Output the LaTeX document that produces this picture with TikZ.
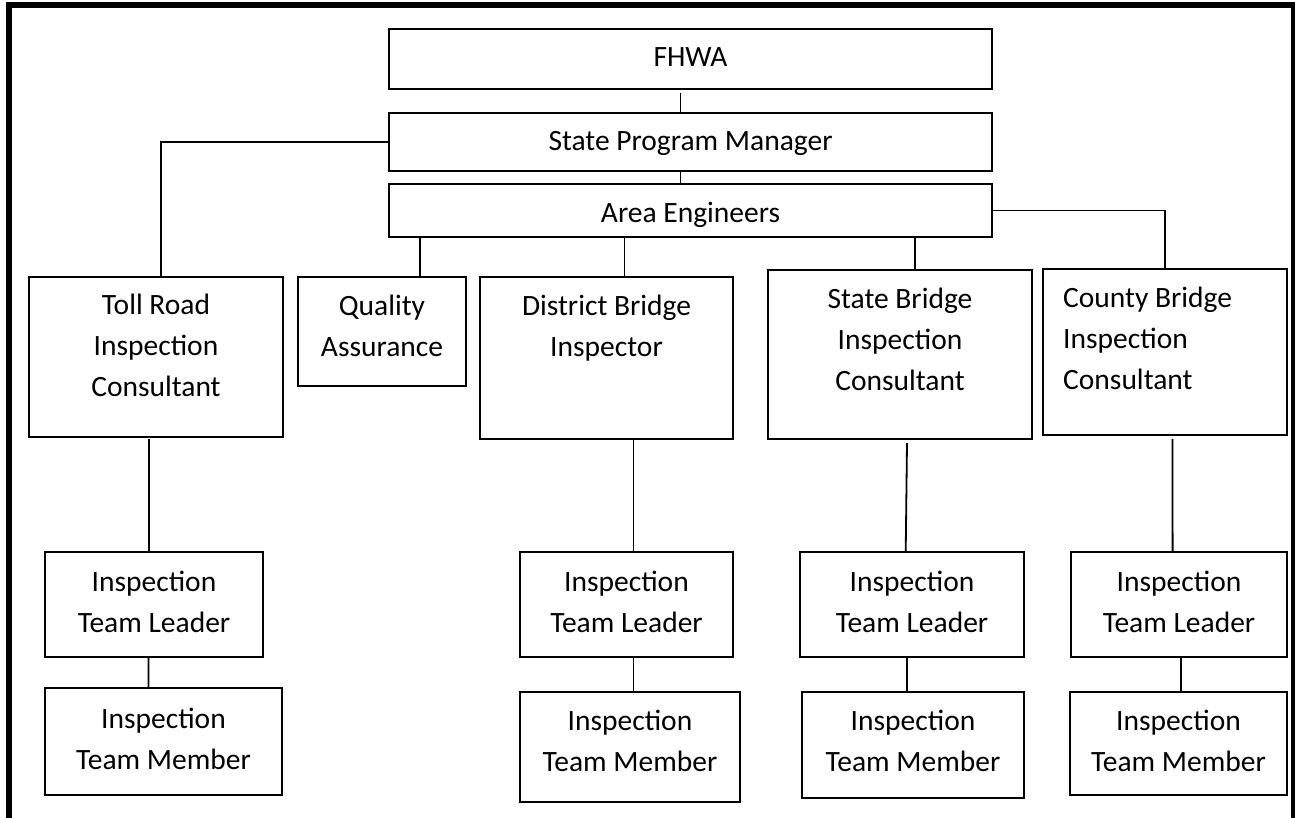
\documentclass[tikz,border=0pt]{standalone}
\usepackage{fontspec}
\setmainfont{Carlito}
% box given by its corners: name, x1, y1, x2, y2
\newcommand\orgbox[5]{%
  \node[box, minimum width={#4-#2}, minimum height={#5-#3}] (#1)
    at ({(#2+#4)/2},{(#3+#5)/2}) {};}
\begin{document}
\begin{tikzpicture}[x=1pt,y=-1pt,
  box/.style={draw, line width=1.8pt, rectangle, inner sep=0pt, outer sep=0pt},
  lbl/.style={align=center, inner sep=0pt, anchor=base,
              font=\fontsize{29.5}{41}\selectfont},
  link/.style={line width=1.8pt},
  frame/.style={line width=6pt}]
\useasboundingbox (0,0) rectangle (1295,818);

% outer frame
\coordinate (f1) at (9,818);
\coordinate (f2) at (9,5.5);
\coordinate (f3) at (1294,5.5);
\coordinate (f4) at (1294,818);
\draw[frame] (f1) -- (f2) -- (f3) -- (f4);

% boxes
\orgbox{fhwa}{389}{29}{992}{89}
\orgbox{spm}{389}{113}{992}{171}
\orgbox{ae}{389}{184}{992}{237}
\orgbox{toll}{29}{277}{283}{437}
\orgbox{qa}{298}{277}{466}{386}
\orgbox{dist}{480}{277}{733}{439}
\orgbox{state}{768}{270}{1032}{439}
\orgbox{county}{1043}{269}{1287}{435}
\orgbox{tla}{45}{552}{263}{657}
\orgbox{tma}{45}{688}{282}{795}
\orgbox{tlb}{520}{552}{733}{657}
\orgbox{tmb}{520}{692}{740}{802}
\orgbox{tlc}{800}{552}{1024}{657}
\orgbox{tmc}{802}{692}{1024}{798}
\orgbox{tld}{1071}{552}{1287}{657}
\orgbox{tmd}{1070}{692}{1287}{795}

% labels (anchored at the baseline of their last line)
\node[lbl] (fhwa-t) at (690.5,67) {FHWA};
\node[lbl] (spm-t) at (690.5,151) {State Program Manager};
\node[lbl] (ae-t) at (690.5,223) {Area Engineers};
\node[lbl] (toll-t) at (156,396) {Toll Road\\Inspection\\Consultant};
\node[lbl] (qa-t) at (382,356) {Quality\\Assurance};
\node[lbl] (dist-t) at (606.5,356) {District Bridge\\Inspector};
\node[lbl] (state-t) at (900,390) {State Bridge\\Inspection\\Consultant};
\node[lbl, anchor=base west, align=left] (county-t) at (1063,389)
  {County Bridge\\Inspection\\Consultant};
\node[lbl] (tla-t) at (154,632) {Inspection\\Team Leader};
\node[lbl] (tma-t) at (163.5,769) {Inspection\\Team Member};
\node[lbl] (tlb-t) at (626.5,632) {Inspection\\Team Leader};
\node[lbl] (tmb-t) at (630,771) {Inspection\\Team Member};
\node[lbl] (tlc-t) at (912,632) {Inspection\\Team Leader};
\node[lbl] (tmc-t) at (913,771) {Inspection\\Team Member};
\node[lbl] (tld-t) at (1179,632) {Inspection\\Team Leader};
\node[lbl] (tmd-t) at (1178.5,771) {Inspection\\Team Member};

% connectors
\draw[link] ([xshift=-10pt,yshift=-4pt]fhwa.south) -- ([xshift=-10pt]spm.north);
\draw[link] ([xshift=-10pt]spm.south) -- ([xshift=-10pt]ae.north);
\draw[link] (spm.west) -| ([xshift=5pt]toll.north);
\draw[link] (ae.east) -| (county.north);

\coordinate (qa-top) at ([xshift=38pt]qa.north);
\draw[link] (qa-top) -- (qa-top |- ae.south);
\coordinate (dist-top) at ([xshift=18pt]dist.north);
\draw[link] (dist-top) -- (dist-top |- ae.south);
\coordinate (state-top) at ([xshift=14.7pt]state.north);
\draw[link] (state-top) -- (state-top |- ae.south);

\draw[link] ([xshift=-7pt,yshift=-2pt]toll.south) -- ([xshift=-5pt]tla.north);
\draw[link] ([xshift=-5.6pt]tla.south) -- ([xshift=-15pt]tma.north);
\draw[link] ([xshift=27pt,yshift=-1pt]dist.south) -- ([xshift=7pt]tlb.north);
\draw[link] ([xshift=7pt]tlb.south) -- ([xshift=3.5pt]tmb.north);
\draw[link] ([xshift=7pt,yshift=-4pt]state.south) -- ([xshift=-6.3pt]tlc.north);
\draw[link] ([xshift=-5pt]tlc.south) -- ([xshift=-6pt]tmc.north);
\draw[link] ([xshift=7.5pt,yshift=-4pt]county.south) -- ([xshift=-6.4pt]tld.north);
\draw[link] ([xshift=2pt]tld.south) -- ([xshift=2.5pt]tmd.north);
\end{tikzpicture}
\end{document}
